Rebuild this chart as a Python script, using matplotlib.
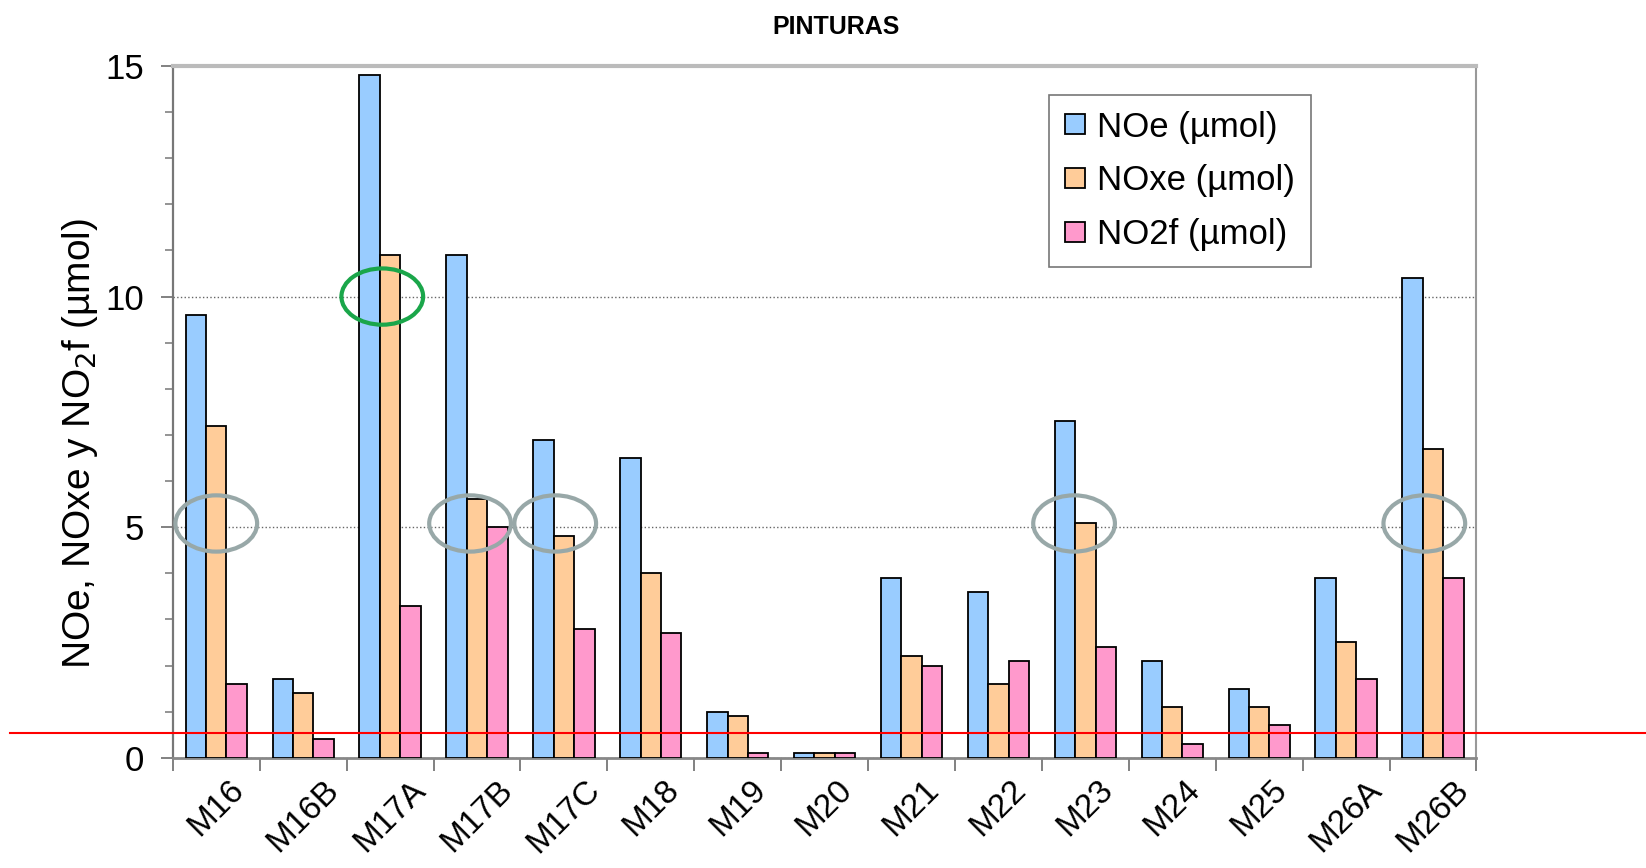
import matplotlib
matplotlib.use("Agg")
import matplotlib.pyplot as plt
import matplotlib.patches as patches
import numpy as np

plt.rcParams['font.family'] = ['Liberation Sans', 'DejaVu Sans']

categories = ["M16", "M16B", "M17A", "M17B", "M17C", "M18", "M19", "M20",
              "M21", "M22", "M23", "M24", "M25", "M26A", "M26B"]
noe = [9.6, 1.7, 14.8, 10.9, 6.9, 6.5, 1.0, 0.1, 3.9, 3.6, 7.3, 2.1, 1.5, 3.9, 10.4]
noxe = [7.2, 1.4, 10.9, 5.6, 4.8, 4.0, 0.9, 0.1, 2.2, 1.6, 5.1, 1.1, 1.1, 2.5, 6.7]
no2f = [1.6, 0.4, 3.3, 5.0, 2.8, 2.7, 0.1, 0.1, 2.0, 2.1, 2.4, 0.3, 0.7, 1.7, 3.9]
series_labels = ["NOe (µmol)", "NOxe (µmol)", "NO2f (µmol)"]
series_colors = ["#99CCFF", "#FFCC99", "#FF99CC"]

# hand-drawn annotation marks (category index, x offset, y value, colour)
circle_cats = [0, 3, 4, 10, 14, 2]
circle_dx = [0.0, -0.08, -0.1, -0.13, -0.1, -0.09]
circle_y = [5.08, 5.08, 5.08, 5.08, 5.08, 10.0]
circle_colors = ["#98A8A8"] * 5 + ["#1AA64A"]
red_line_y = 0.53

fig = plt.figure(figsize=(16.46, 8.68), dpi=100)
ax = fig.add_axes([0.105, 0.127, 0.792, 0.797])

x = np.arange(len(categories))
w = 0.235
for i, (vals, lab, col) in enumerate(zip([noe, noxe, no2f], series_labels, series_colors)):
	ax.bar(x + (i - 1) * w, vals, w, color=col, edgecolor="black", linewidth=1.3,
		label=lab, zorder=3)

ax.set_xlim(-0.5, len(categories) - 0.5)
ax.set_ylim(0, 15)
ax.set_yticks([0, 5, 10, 15])
ax.set_yticks(np.arange(0, 16, 1), minor=True)
ax.set_xticks(x)
ax.set_xticklabels(categories, rotation=45, fontsize=24)
ax.set_xticks(np.arange(-0.5, len(categories), 1), minor=True)
ax.tick_params(axis="x", which="major", length=0, pad=12)
ax.tick_params(axis="x", which="minor", length=9, width=1.3, color="#777777")
ax.tick_params(axis="y", which="major", length=9, width=1.3, labelsize=25,
	color="#777777", pad=12)
ax.tick_params(axis="y", which="minor", length=6, width=1.1, color="#777777")

ax.yaxis.grid(True, which="major", linestyle=":", color="#666666", linewidth=1.0, zorder=0)
ax.set_axisbelow(True)

ax.spines["top"].set_color("#BBBBBB")
ax.spines["top"].set_linewidth(3)
ax.spines["right"].set_color("#999999")
ax.spines["right"].set_linewidth(1.5)
ax.spines["left"].set_color("#777777")
ax.spines["left"].set_linewidth(1.6)
ax.spines["bottom"].set_color("#888888")
ax.spines["bottom"].set_linewidth(2)

ax.set_ylabel("NOe, NOxe y NO$_2$f (µmol)", fontsize=28)
ax.yaxis.set_label_coords(-0.056, 0.455)

fig.text(0.508, 0.969, "PINTURAS", fontsize=18, fontweight="bold", ha="center", va="center")

leg = ax.legend(loc="upper right", bbox_to_anchor=(0.873, 0.958), borderaxespad=0,
	fontsize=25, frameon=True, fancybox=False, handlelength=0.58, handleheight=0.52,
	handletextpad=0.35, labelspacing=0.6, borderpad=0.45)
leg.get_frame().set_edgecolor("#555555")
leg.get_frame().set_linewidth(1.2)

for c, dx, cy, col in zip(circle_cats, circle_dx, circle_y, circle_colors):
	e = patches.Ellipse((c + dx, cy), 0.94, 1.22, fill=False, edgecolor=col,
		linewidth=3, zorder=5)
	ax.add_patch(e)

ax.axhline(red_line_y, xmin=-0.125, xmax=1.15, color="red", linewidth=1.5,
	clip_on=False, zorder=6)

fig.savefig("out.png", dpi=100)
